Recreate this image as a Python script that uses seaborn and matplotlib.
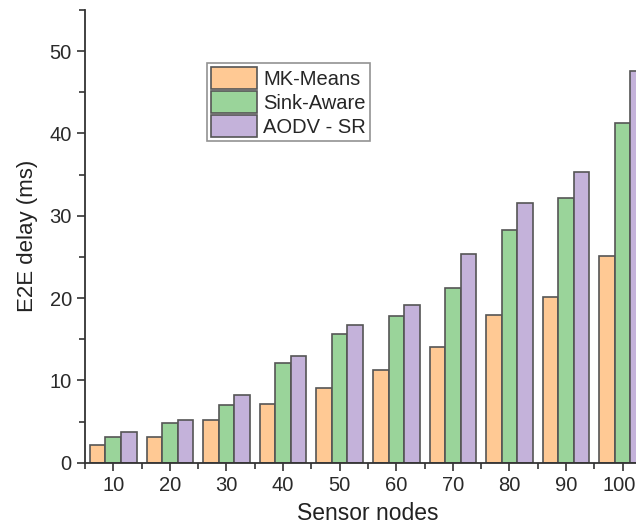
import matplotlib
matplotlib.use("Agg")
import matplotlib.pyplot as plt
import matplotlib.transforms as mtransforms
import seaborn as sns
import pandas as pd
from matplotlib.ticker import MultipleLocator, FixedLocator

nodes = [10, 20, 30, 40, 50, 60, 70, 80, 90, 100]
mk_means = [2.2, 3.1, 5.2, 7.1, 9.1, 11.3, 14.0, 17.9, 20.1, 25.1]
sink_aware = [3.1, 4.8, 7.0, 12.1, 15.6, 17.8, 21.2, 28.3, 32.1, 41.3]
aodv_sr = [3.7, 5.2, 8.2, 13.0, 16.7, 19.2, 25.4, 31.5, 35.3, 47.6]
series = ["MK-Means", "Sink-Aware", "AODV - SR"]
colors = ["#FFC994", "#9AD49A", "#C4B2DA"]

df = pd.DataFrame({
    "nodes": nodes * 3,
    "value": mk_means + sink_aware + aodv_sr,
    "series": [s for s in series for _ in nodes],
})

sns.set_theme(style="ticks")
plt.rcParams["font.family"] = ["Liberation Sans", "DejaVu Sans"]

fig = plt.figure(figsize=(6.36, 5.27), dpi=100)
ax = fig.add_axes([0.1336, 0.122, 0.89, 0.859])

sns.barplot(data=df, x="nodes", y="value", hue="series", palette=colors,
            width=0.825, edgecolor="#555555", linewidth=1.2, saturation=1,
            ax=ax)

ax.set_xlim(-0.5, 9.5)
ax.set_ylim(0, 55)
ax.yaxis.set_major_locator(MultipleLocator(10))
ax.yaxis.set_minor_locator(MultipleLocator(5))
ax.xaxis.set_minor_locator(FixedLocator([i + 0.5 for i in range(-1, 10)]))
ax.tick_params(axis="both", which="major", direction="out", length=6, width=1.2,
               labelsize=14.5, colors="#333333", labelcolor="#2a2a2a")
ax.tick_params(axis="both", which="minor", direction="out", length=4, width=1.2,
               colors="#333333")
for side in ["top", "right"]:
    ax.spines[side].set_visible(False)
for side in ["left", "bottom"]:
    ax.spines[side].set_linewidth(1.3)
    ax.spines[side].set_color("#333333")

ax.set_xlabel("Sensor nodes", fontsize=16.5, color="#222222", labelpad=5)
ax.set_ylabel("E2E delay (ms)", fontsize=16, color="#222222", labelpad=8)

# keep the last x tick label inside the figure edge
fig.canvas.draw()
last = ax.get_xticklabels()[-1]
last.set_transform(last.get_transform() +
                   mtransforms.ScaledTranslation(-4 / 100, 0, fig.dpi_scale_trans))

leg = ax.legend(loc="upper left", bbox_to_anchor=(0.215, 0.883), fontsize=14.5,
                frameon=True, fancybox=False, edgecolor="#777777",
                borderpad=0.2, labelspacing=0.1, handlelength=2.3,
                handleheight=1.3, handletextpad=0.3, borderaxespad=0)
leg.get_frame().set_linewidth(1.2)

fig.savefig("out.png", dpi=100)
